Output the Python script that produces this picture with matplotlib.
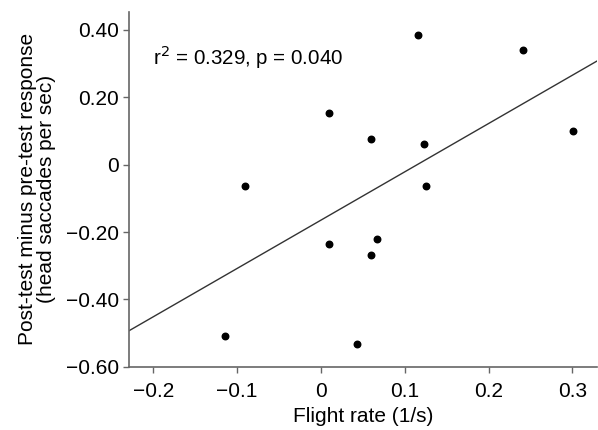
import numpy as np
import matplotlib
matplotlib.use('Agg')
import matplotlib.pyplot as plt

plt.rcParams['font.family'] = ['Liberation Sans', 'DejaVu Sans']

# data
flight_rate = [0.116, 0.241, 0.010, 0.060, 0.123, 0.301, 0.126,
               -0.090, 0.010, 0.067, 0.060, 0.043, -0.115]
response = [0.386, 0.340, 0.153, 0.075, 0.062, 0.099, -0.064,
            -0.062, -0.237, -0.220, -0.267, -0.532, -0.510]
xticks = [-0.2, -0.1, 0, 0.1, 0.2, 0.3]
xticklabels = ['\u22120.2', '\u22120.1', '0', '0.1', '0.2', '0.3']
yticks = [0.4, 0.2, 0, -0.2, -0.4, -0.6]
yticklabels = ['0.40', '0.20', '0', '\u22120.20', '\u22120.40', '\u22120.60']
xmin, xmax = -0.229, 0.329

fig = plt.figure(figsize=(5.98, 4.30), dpi=100)
ax = fig.add_axes([0.2157, 0.147, 0.782, 0.825])

ax.scatter(flight_rate, response, s=22, color='black', zorder=3)

# regression line
slope, intercept = np.polyfit(flight_rate, response, 1)
xl = np.array([xmin, xmax])
ax.plot(xl, slope * xl + intercept, color='#333333', lw=1.0)

ax.text(-0.2, 0.319, 'r$^2$ = 0.329, p = 0.040', fontsize=14.8, va='center', ha='left')

ax.set_xlim(xmin, xmax)
ax.set_ylim(-0.6, 0.453)
ax.set_xticks(xticks)
ax.set_xticklabels(xticklabels)
ax.set_yticks(yticks)
ax.set_yticklabels(yticklabels)

for s in ['top', 'right']:
    ax.spines[s].set_visible(False)
for s in ['left', 'bottom']:
    ax.spines[s].set_color('#666666')
    ax.spines[s].set_linewidth(1.2)
ax.tick_params(direction='out', length=4, width=1.0, color='#666666', labelsize=15, pad=3)
ax.tick_params(axis='x', pad=7)

ax.set_xlabel('Flight rate (1/s)', fontsize=15, labelpad=4)
ax.set_ylabel('Post-test minus pre-test response\n(head saccades per sec)', fontsize=15,
              labelpad=7, linespacing=1.05)

fig.savefig('out.png', dpi=100)
